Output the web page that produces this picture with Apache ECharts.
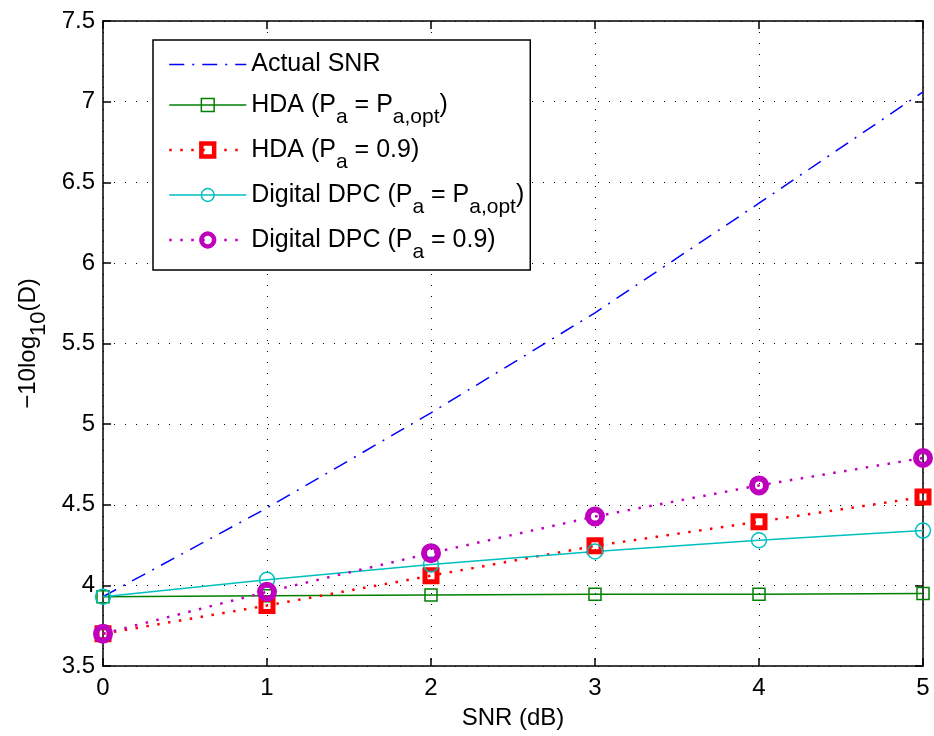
<!DOCTYPE html>
<html>
<head>
<meta charset="utf-8">
<script src="https://cdn.jsdelivr.net/npm/echarts@6/dist/echarts.min.js"></script>
<style>html,body{margin:0;padding:0;background:#fff;}#c{width:934px;height:736px;}</style>
</head>
<body>
<div id="c"></div>
<script>
// ---- data ----
const snrDb = [0, 1, 2, 3, 4, 5];
const actualSnr = [3.93, 4.48, 5.07, 5.69, 6.37, 7.06];
const hdaOpt = [3.93, 3.935, 3.94, 3.945, 3.945, 3.95];
const hda09 = [3.70, 3.875, 4.06, 4.245, 4.395, 4.548];
const dpcOpt = [3.93, 4.035, 4.13, 4.21, 4.28, 4.34];
const dpc09 = [3.70, 3.96, 4.20, 4.427, 4.62, 4.79];
const seriesNames = ['Actual SNR', 'HDA (Pa = Pa,opt)', 'HDA (Pa = 0.9)', 'Digital DPC (Pa = Pa,opt)', 'Digital DPC (Pa = 0.9)'];
const legendLabels = [
  '{t|Actual SNR}',
  '{n|HDA (P}{s|a}{n| = P}{s|a,opt}{n|)}',
  '{n|HDA (P}{s|a}{n| = 0.9)}',
  '{n|Digital DPC (P}{s|a}{n| = P}{s|a,opt}{n|)}',
  '{n|Digital DPC (P}{s|a}{n| = 0.9)}'
];
const xMin = 0, xMax = 5, xStep = 1;
const yMin = 3.5, yMax = 7.5, yStep = 0.5;

const FONT = '"Liberation Sans", Arial, Helvetica, sans-serif';
const pairs = ys => snrDb.map((x, i) => [x, ys[i]]);

const chart = echarts.init(document.getElementById('c'), null, {renderer: 'canvas'});

const gridLine = {show: true, lineStyle: {color: '#000', width: 1, type: [1, 10]}};
const axisBase = {
  axisLine: {show: true, onZero: false, lineStyle: {color: '#000', width: 1.5}},
  axisTick: {show: true, inside: true, length: 8, lineStyle: {color: '#000', width: 1.5}},
};

const option = {
  animation: false,
  backgroundColor: '#fff',
  grid: {left: 103, right: 11, top: 21, bottom: 70, show: false, containLabel: false, outerBoundsMode: 'none'},
  xAxis: [
    Object.assign({
      type: 'value', min: xMin, max: xMax, interval: xStep, position: 'bottom',
      axisLabel: {color: '#000', fontSize: 24, fontFamily: FONT, margin: 10},
      splitLine: gridLine,
      name: 'SNR (dB)', nameLocation: 'middle', nameGap: 40,
      nameTextStyle: {color: '#000', fontSize: 24, fontFamily: FONT}
    }, axisBase),
    Object.assign({
      type: 'value', min: xMin, max: xMax, interval: xStep, position: 'top',
      axisLabel: {show: false}, splitLine: {show: false}
    }, axisBase)
  ],
  yAxis: [
    Object.assign({
      type: 'value', min: yMin, max: yMax, interval: yStep, position: 'left',
      axisLabel: {color: '#000', fontSize: 24, fontFamily: FONT, margin: 8},
      splitLine: gridLine,
      name: '{n|\u221210log}{s|10}{n|(D)}', nameLocation: 'middle', nameRotate: 90, nameGap: 61,
      nameTextStyle: {
        color: '#000', fontFamily: FONT, fontSize: 24,
        rich: {
          n: {fontSize: 24, lineHeight: 28, fontFamily: FONT, color: '#000'},
          s: {fontSize: 22, lineHeight: 4, padding: [22, 0, 0, 0], fontFamily: FONT, color: '#000'}
        }
      }
    }, axisBase),
    Object.assign({
      type: 'value', min: yMin, max: yMax, interval: yStep, position: 'right',
      axisLabel: {show: false}, splitLine: {show: false}
    }, axisBase)
  ],
  legend: {
    show: true, orient: 'vertical', align: 'left',
    left: 153, top: 40,
    padding: [6, 6, 7, 15],
    itemWidth: 77, itemHeight: 16, itemGap: -1,
    backgroundColor: '#fff', borderColor: '#000', borderWidth: 1.5, borderRadius: 0,
    selectedMode: false,
    formatter: name => legendLabels[seriesNames.indexOf(name)],
    textStyle: {
      color: '#000', fontFamily: FONT, fontSize: 25,
      rich: {
        t: {fontSize: 25, lineHeight: 30, padding: [6, 0, 6, 0], fontFamily: FONT, color: '#000'},
        n: {fontSize: 25, lineHeight: 30, fontFamily: FONT, color: '#000'},
        s: {fontSize: 21, lineHeight: 4, padding: [25, 0, 0, 0], fontFamily: FONT, color: '#000'}
      }
    },
    data: [
      {name: seriesNames[0], itemStyle: {opacity: 0}, lineStyle: {color: '#0000ff', width: 1.5, type: [15, 8, 2, 8]}},
      {name: seriesNames[1], itemStyle: {color: 'rgba(0,0,0,0)', borderColor: '#008000', borderWidth: 1.5}, lineStyle: {color: '#008000', width: 1.5, type: 'solid'}},
      {name: seriesNames[2], itemStyle: {color: 'rgba(0,0,0,0)', borderColor: '#ff0000', borderWidth: 4.5}, lineStyle: {color: '#ff0000', width: 2.5, type: [2.5, 8.5]}},
      {name: seriesNames[3], itemStyle: {color: 'rgba(0,0,0,0)', borderColor: '#00bfbf', borderWidth: 1.5}, lineStyle: {color: '#00bfbf', width: 1.5, type: 'solid'}},
      {name: seriesNames[4], itemStyle: {color: 'rgba(0,0,0,0)', borderColor: '#bf00bf', borderWidth: 4.5}, lineStyle: {color: '#bf00bf', width: 2.5, type: [2.5, 8.5]}}
    ]
  },
  series: [
    {
      name: seriesNames[0], type: 'line', data: pairs(actualSnr),
      symbol: 'none', showSymbol: false,
      lineStyle: {color: '#0000ff', width: 1.5, type: [15, 8, 2, 8]},
      itemStyle: {color: '#0000ff'},
      emphasis: {disabled: true}, silent: true
    },
    {
      name: seriesNames[1], type: 'line', data: pairs(hdaOpt),
      symbol: 'rect', symbolSize: 12,
      lineStyle: {color: '#008000', width: 1.5},
      itemStyle: {color: 'rgba(0,0,0,0)', borderColor: '#008000', borderWidth: 1.5},
      emphasis: {disabled: true}, silent: true
    },
    {
      name: seriesNames[2], type: 'line', data: pairs(hda09),
      symbol: 'rect', symbolSize: 12,
      lineStyle: {color: '#ff0000', width: 2.5, type: [2.5, 8.5]},
      itemStyle: {color: 'rgba(0,0,0,0)', borderColor: '#ff0000', borderWidth: 5},
      emphasis: {disabled: true}, silent: true
    },
    {
      name: seriesNames[3], type: 'line', data: pairs(dpcOpt),
      symbol: 'circle', symbolSize: 15,
      lineStyle: {color: '#00bfbf', width: 1.5},
      itemStyle: {color: 'rgba(0,0,0,0)', borderColor: '#00bfbf', borderWidth: 1.5},
      emphasis: {disabled: true}, silent: true
    },
    {
      name: seriesNames[4], type: 'line', data: pairs(dpc09),
      symbol: 'circle', symbolSize: 14,
      lineStyle: {color: '#bf00bf', width: 2.5, type: [2.5, 8.5]},
      itemStyle: {color: 'rgba(0,0,0,0)', borderColor: '#bf00bf', borderWidth: 6},
      emphasis: {disabled: true}, silent: true
    }
  ]
};
chart.setOption(option);
</script>
</body>
</html>
